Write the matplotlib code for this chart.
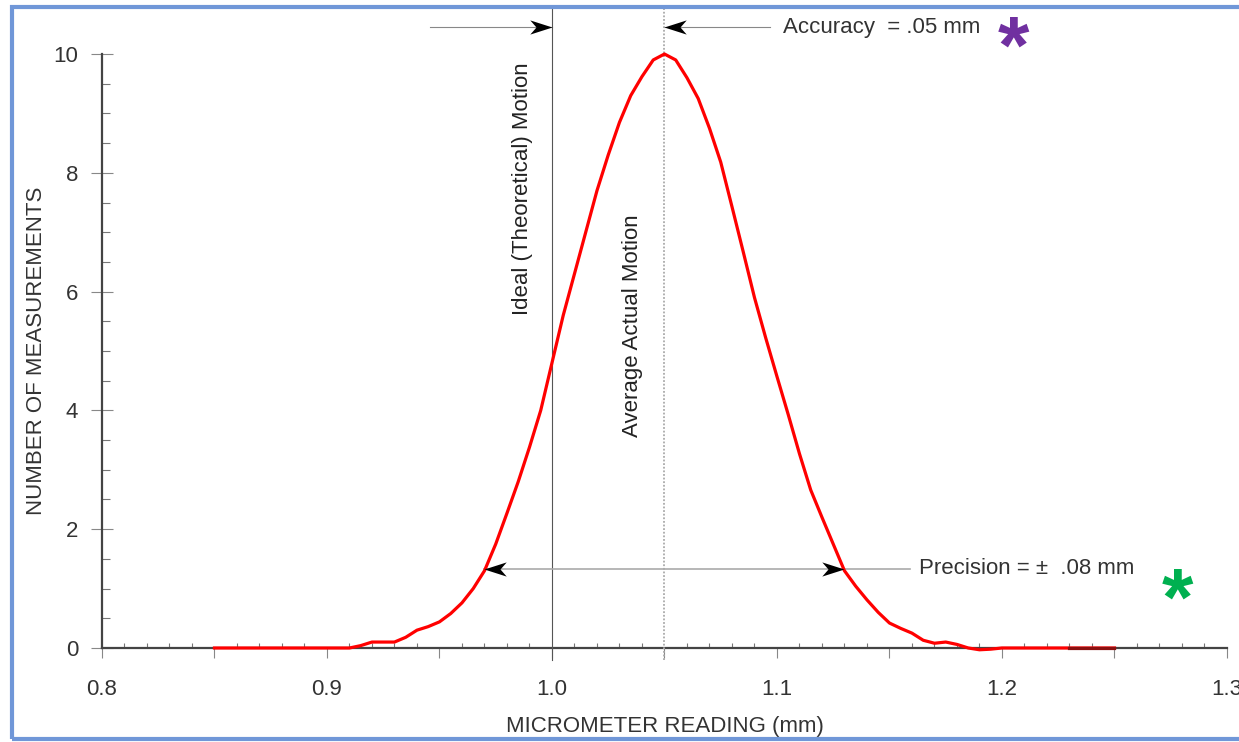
import matplotlib.pyplot as plt
import numpy as np
from matplotlib.path import Path
from matplotlib.patches import Rectangle
from matplotlib.ticker import MultipleLocator, FuncFormatter

plt.rcParams['font.family'] = ['Liberation Sans', 'DejaVu Sans']

reading = [0.85, 0.90, 0.91, 0.915, 0.92, 0.925, 0.93, 0.935, 0.94, 0.945,
           0.95, 0.955, 0.96, 0.965, 0.97, 0.975, 0.98, 0.985, 0.99, 0.995,
           1.00, 1.005, 1.01, 1.015, 1.02, 1.025, 1.03, 1.035, 1.04, 1.045,
           1.05, 1.055, 1.06, 1.065, 1.07, 1.075, 1.08, 1.085, 1.09, 1.095,
           1.10, 1.105, 1.11, 1.115, 1.12, 1.125, 1.13, 1.135, 1.14, 1.145,
           1.15, 1.155, 1.16, 1.165, 1.17, 1.175, 1.18, 1.185, 1.19, 1.195,
           1.20, 1.23, 1.25]
count = [0, 0, 0, 0.04, 0.1, 0.1, 0.1, 0.18, 0.3, 0.36,
         0.44, 0.58, 0.76, 1.0, 1.3, 1.75, 2.27, 2.8, 3.38, 4.0,
         4.8, 5.6, 6.3, 7.0, 7.7, 8.3, 8.85, 9.3, 9.62, 9.9,
         10.0, 9.9, 9.6, 9.25, 8.75, 8.18, 7.43, 6.67, 5.9, 5.22,
         4.57, 3.93, 3.27, 2.66, 2.2, 1.75, 1.3, 1.04, 0.81, 0.6,
         0.42, 0.33, 0.25, 0.13, 0.08, 0.1, 0.06, 0.0, -0.03, -0.02,
         0, 0, 0]

ideal = 1.00
average = 1.05
prec_lo, prec_hi = 0.97, 1.13
prec_level = 1.33
acc_level = 10.45

fig = plt.figure(figsize=(12.39, 7.42), dpi=100)
ax = fig.add_axes([0.0823, 0.1267, 0.9080, 0.8005])

ax.plot(reading, count, color='#ff0000', lw=2.3, zorder=5, clip_on=False,
        solid_joinstyle='round')
ax.plot(reading[-2:], count[-2:], color='#8b1010', lw=2.3, zorder=6, clip_on=False)

# reference lines
ax.plot([ideal, ideal], [-0.2, 10.75], color='#555555', lw=0.8, clip_on=False, zorder=3)
ax.plot([average, average], [-0.2, 10.75], color='#aaaaaa', lw=1.3, ls=(0, (1, 1)),
        clip_on=False, zorder=3)

# arrow head marker (stealth shape, tip at origin)
head = Path([(0, 0), (-1.0, 0.32), (-0.72, 0), (-1.0, -0.32), (0, 0)],
            [Path.MOVETO, Path.LINETO, Path.LINETO, Path.LINETO, Path.CLOSEPOLY])
head_l = Path(np.array(head.vertices) * [-1, 1], head.codes)
hs = 32

# accuracy arrows
ax.plot([0.9458, ideal], [acc_level, acc_level], color='#888888', lw=0.8, clip_on=False)
ax.plot([average, 1.097], [acc_level, acc_level], color='#888888', lw=0.8, clip_on=False)
ax.plot([ideal], [acc_level], marker=head, ms=hs, color='black', mew=0, clip_on=False, zorder=7)
ax.plot([average], [acc_level], marker=head_l, ms=hs, color='black', mew=0, clip_on=False, zorder=7)
ax.text(1.1027, acc_level, 'Accuracy  = .05 mm', fontsize=16, color='#333333',
        va='center', ha='left', clip_on=False)

# precision arrows
ax.plot([prec_lo, 1.159], [prec_level, prec_level], color='#aaaaaa', lw=1.2, zorder=4)
ax.plot([prec_lo], [prec_level], marker=head_l, ms=hs, color='black', mew=0, zorder=7)
ax.plot([prec_hi], [prec_level], marker=head, ms=hs, color='black', mew=0, zorder=7)
ax.text(1.163, prec_level, 'Precision = \u00b1  .08 mm', fontsize=16, color='#333333',
        va='center', ha='left')

ax.text(0.987, 7.74, 'Ideal (Theoretical) Motion', rotation=90, fontsize=16,
        color='#222222', ha='center', va='center')
ax.text(1.036, 5.42, 'Average Actual Motion', rotation=90, fontsize=16,
        color='#222222', ha='center', va='center')

ax.set_xlim(0.8, 1.3)
ax.set_ylim(0, 10)
for s in ['top', 'right']:
    ax.spines[s].set_visible(False)
for s in ['left', 'bottom']:
    ax.spines[s].set_color('#444444')
    ax.spines[s].set_linewidth(1.6)

ax.xaxis.set_major_locator(MultipleLocator(0.05))
ax.xaxis.set_minor_locator(MultipleLocator(0.01))
ax.xaxis.set_major_formatter(FuncFormatter(
    lambda v, p: '%.1f' % v if abs(v * 10 - round(v * 10)) < 1e-6 else ''))
ax.yaxis.set_major_locator(MultipleLocator(2))
ax.yaxis.set_minor_locator(MultipleLocator(0.5))

ax.tick_params(axis='x', which='major', direction='out', length=7.5, width=0.8,
               color='#888888', labelsize=16, labelcolor='#333333', pad=15)
ax.tick_params(axis='x', which='minor', direction='in', length=3.5, width=0.8, color='#777777')
ax.tick_params(axis='y', which='major', direction='inout', length=16, width=0.8,
               color='#888888', labelsize=16, labelcolor='#333333', pad=9)
ax.tick_params(axis='y', which='minor', direction='in', length=6, width=0.8, color='#777777')

ax.set_xlabel('MICROMETER READING (mm)', fontsize=16, color='#333333', labelpad=11)
ax.set_ylabel('NUMBER OF MEASUREMENTS', fontsize=16, color='#333333', labelpad=5)

# decorative asterisks
fig.text(1013 / 1239, 1 - 52 / 742, '*', fontsize=58, fontweight='bold', color='#7030a0',
         ha='center', va='center')
fig.text(1177 / 1239, 1 - 604 / 742, '*', fontsize=58, fontweight='bold', color='#00b050',
         ha='center', va='center')

# blue frame
fig.patches.append(Rectangle((12 / 1239, 3 / 742), 1.1, 1 - 10 / 742, transform=fig.transFigure,
                             fill=False, edgecolor='#7097d8', lw=3, zorder=10))

fig.savefig('out.png', dpi=100)
